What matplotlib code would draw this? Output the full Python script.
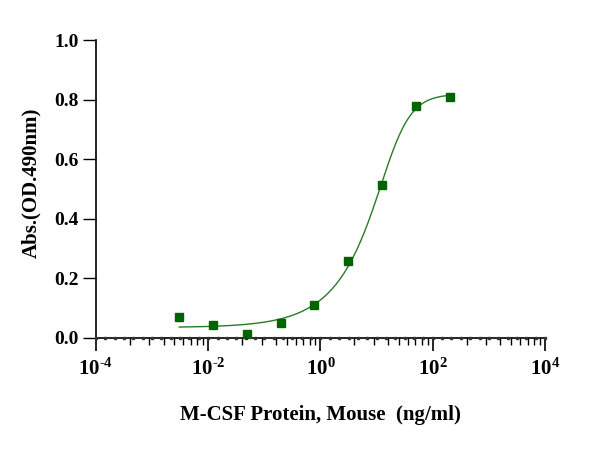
import numpy as np
import matplotlib as mpl
mpl.use('Agg')
import matplotlib.pyplot as plt
from matplotlib.ticker import FixedLocator, FuncFormatter, NullFormatter

# concentrations (ng/ml), 4-fold dilution series, and OD readings
conc = [0.00305, 0.0122, 0.0488, 0.195, 0.781, 3.125, 12.5, 50.0, 200.0]
od = [0.070, 0.044, 0.013, 0.050, 0.111, 0.258, 0.513, 0.778, 0.809]

x_label = 'M-CSF Protein, Mouse  (ng/ml)'
y_label = 'Abs.(OD.490nm)'
green = '#006400'

plt.rcParams['font.family'] = ['Liberation Serif', 'DejaVu Serif']
plt.rcParams['font.weight'] = 'bold'
plt.rcParams['mathtext.fontset'] = 'custom'
plt.rcParams['mathtext.rm'] = 'Liberation Serif:bold'
plt.rcParams['mathtext.it'] = 'Liberation Serif:bold'
plt.rcParams['mathtext.bf'] = 'Liberation Serif:bold'


def five_pl(x, p):
    bottom, top, logc, hill, asym = p
    return bottom + (top - bottom) / (1 + 10 ** ((logc - np.log10(x)) * hill)) ** asym


def fit(func, x, y, p0):
    # damped gauss-newton (levenberg-marquardt style)
    p = np.array(p0, dtype=float)
    n = len(p)
    lam = 1e-3
    for _ in range(500):
        r = y - func(x, p)
        J = np.zeros((len(x), n))
        for k in range(n):
            dp = np.zeros(n)
            dp[k] = 1e-6
            J[:, k] = (func(x, p + dp) - func(x, p - dp)) / 2e-6
        A = J.T @ J
        step = np.linalg.solve(A + lam * (np.diag(np.diag(A)) + 1e-9 * np.eye(n)), J.T @ r)
        new = p + step
        if new[4] > 0.05 and np.sum((y - func(x, new)) ** 2) < np.sum(r ** 2):
            p = new
            lam *= 0.5
        else:
            lam *= 4
    return p


x = np.array(conc)
y = np.array(od)
params = fit(five_pl, x, y, [0.035, 0.82, 0.9, 1.2, 1.0])
xs = np.logspace(np.log10(x.min()), np.log10(x.max()), 300)

fig = plt.figure(figsize=(6.11, 4.5), dpi=100)
ax = fig.add_axes([0.157, 0.249, 0.735, 0.662])

ax.plot(xs, five_pl(xs, params), '-', color='#2a7a2a', lw=1.0)
ax.plot(x, y, 's', color=green, ms=5.5, mec=green, clip_on=False, zorder=3)

ax.set_xscale('log')
ax.set_xlim(1e-4, 1e4)
ax.set_ylim(0, 1.0)

# prism-like ticks: major every 2 decades, log minor ticks inside each span
majors = [10.0 ** e for e in range(-4, 5, 2)]
minors = []
for e in range(-4, 4, 2):
    for k in range(2, 10):
        minors.append(10 ** (e + 2 * np.log10(k)))
ax.xaxis.set_major_locator(FixedLocator(majors))
ax.xaxis.set_minor_locator(FixedLocator(minors))
ax.xaxis.set_minor_formatter(NullFormatter())
ax.xaxis.set_major_formatter(FuncFormatter(
    lambda v, pos: '$10^{%s}$' % ('\u2010%d' % -round(np.log10(v)) if v < 1 else '%d' % round(np.log10(v)))))
ax.set_yticks([0.0, 0.2, 0.4, 0.6, 0.8, 1.0])
ax.yaxis.set_major_formatter(FuncFormatter(lambda v, pos: '%.1f' % v))

# little dots along the x axis
dots = 10 ** np.arange(-4, 4.001, 1 / 6.0)
ax.plot(dots, np.zeros_like(dots), 's', color='#333333', ms=1.6,
        transform=ax.get_xaxis_transform(), clip_on=False, zorder=4)

ax.tick_params(axis='x', which='major', length=9, width=1.2, labelsize=15, pad=6)
ax.tick_params(axis='x', which='minor', length=5, width=1.0)
ax.tick_params(axis='y', which='major', length=9.5, width=1.0, labelsize=14, pad=3)

for side in ['top', 'right']:
    ax.spines[side].set_visible(False)
for side in ['left', 'bottom']:
    ax.spines[side].set_linewidth(1.2)

ax.set_xlabel(x_label, fontsize=15, fontweight='bold', labelpad=18)
ax.set_ylabel(y_label, fontsize=15, fontweight='bold')
ax.yaxis.set_label_coords(-0.121, 0.52)

fig.savefig('out.png', dpi=100)
